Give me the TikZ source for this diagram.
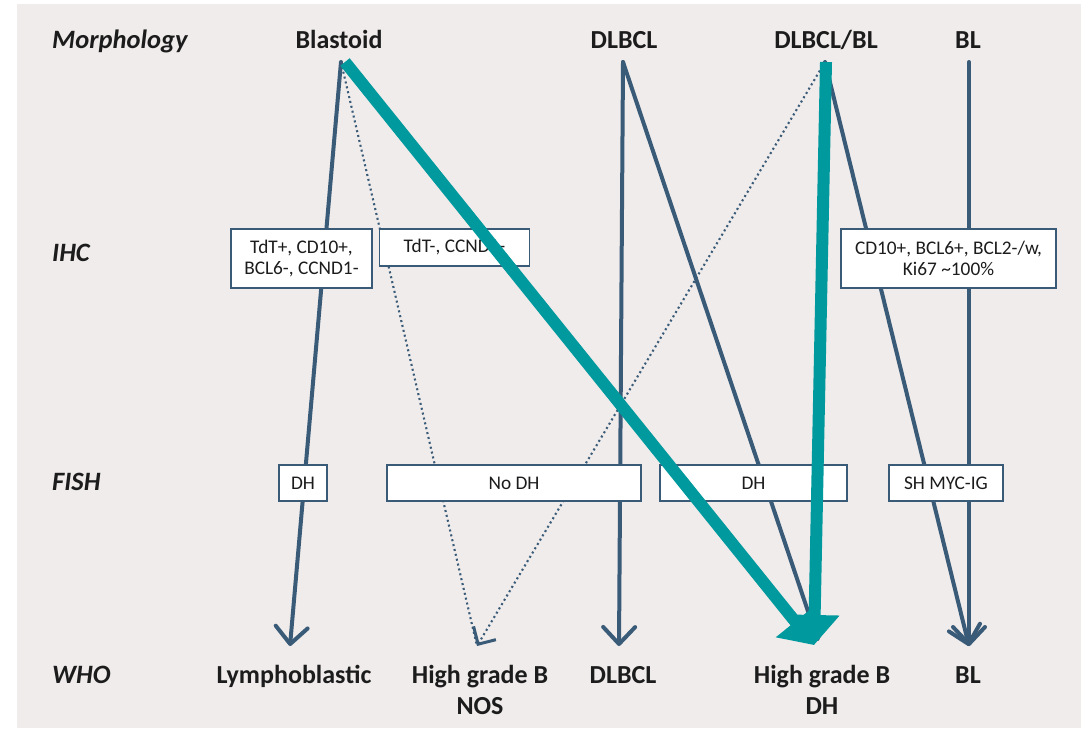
\documentclass[tikz,border=0pt]{standalone}
\usepackage{fontspec}
\setmainfont{Carlito}
\usetikzlibrary{arrows.meta}
\definecolor{bg}{HTML}{F0ECEB}
\definecolor{slate}{HTML}{3A5B78}
\definecolor{tealc}{HTML}{00999E}
\definecolor{ink}{HTML}{1C1C1C}
\begin{document}
\begin{tikzpicture}[x=1pt,y=-1pt,
  headlab/.style={font=\fontsize{26}{31}\selectfont\bfseries, text=ink, anchor=base, inner sep=0},
  rowlab/.style={font=\fontsize{26.5}{30}\selectfont\bfseries\itshape, text=ink, anchor=base west, inner sep=0},
  boxn/.style={draw=slate, line width=1.5pt, fill=white, text=ink, font=\fontsize{19.3}{21.5}\selectfont, align=center, inner sep=0},
  darr/.style={draw=slate, line width=4pt, line cap=round, -{Straight Barb[length=17pt,width=32pt,round]}},
  dline/.style={draw=slate, line width=2.1pt, dash pattern=on 2pt off 3pt},
  tarr/.style={draw=tealc, line width=12pt, -{Triangle[length=30pt,width=48pt]}}
]
\useasboundingbox (0,0) rectangle (1081,729);
\fill[white] (0,0) rectangle (1081,729);
\fill[bg] (17,4) rectangle (1081,728);

% row labels
\node[rowlab] (rM) at (52,48) {Morphology};
\node[rowlab] (rI) at (52,261) {IHC};
\node[rowlab] (rF) at (52,490) {FISH};
\node[rowlab] (rW) at (52,683) {WHO};

% top labels
\node[headlab] (tBla) at (339,48) {Blastoid};
\node[headlab] (tDL) at (624,48) {DLBCL};
\node[headlab] (tDB) at (826,48) {DLBCL/BL};
\node[headlab] (tBL) at (968,48) {BL};

% bottom labels
\node[headlab] (wLy) at (294,683) {Lymphoblastic};
\node[headlab] (wN1) at (480,683) {High grade B};
\node[headlab] (wN2) at (480,714) {NOS};
\node[headlab] (wDL) at (623,683) {DLBCL};
\node[headlab] (wD1) at (822,683) {High grade B};
\node[headlab] (wD2) at (822,714) {DH};
\node[headlab] (wBL) at (968,683) {BL};

% connector end points
\coordinate (sBla) at (341,62);
\coordinate (sDL) at (623,62);
\coordinate (sDB) at (825,62);
\coordinate (sBL) at (969,62);
\coordinate (eLy) at (290,646);
\coordinate (eNOS) at (477,646);
\coordinate (eDL) at (619,646);
\coordinate (eDH) at (818,641);
\coordinate (eBL) at (969,646);
\coordinate (tS1) at (345,62);
\coordinate (tS2) at (826,62);
\coordinate (tE) at (814,645);

% dotted connectors
\draw[dline] (sBla) -- (eNOS);
\draw[dline, -{Straight Barb[length=13pt,width=26pt,line width=3pt]}] (sDB) -- (eNOS);

% dark connectors
\draw[darr] (sBla) -- (eLy);
\draw[darr] (sDL) -- (eDL);
\draw[darr] (sDL) -- (eDH);
\draw[darr] (sDB) -- (eBL);
\draw[darr] (sBL) -- (eBL);

% IHC boxes
\node[boxn, minimum width=141pt, minimum height=59pt] (i1) at (301.5,258.5) {TdT+, CD10+,\\BCL6-, CCND1-};
\node[boxn, minimum width=150pt, minimum height=37pt] (i2) at (454.5,247.5) {TdT-, CCND1-};
\node[boxn, minimum width=215pt, minimum height=59pt] (i3) at (948.5,258.5) {CD10+, BCL6+, BCL2-/w,\\Ki67 \textasciitilde100\%};

% FISH boxes
\node[boxn, minimum width=48pt, minimum height=36pt] (f1) at (303,483) {DH};
\node[boxn, minimum width=254pt, minimum height=36pt] (f2) at (514,483) {No DH};
\node[boxn, minimum width=187pt, minimum height=36pt] (f3) at (753.5,483) {DH};
\node[boxn, minimum width=114pt, minimum height=36pt] (f4) at (946,483) {SH MYC-IG};

% teal arrows
\draw[tarr] (tS1) -- (tE);
\draw[tarr] (tS2) -- (tE);
\end{tikzpicture}
\end{document}
